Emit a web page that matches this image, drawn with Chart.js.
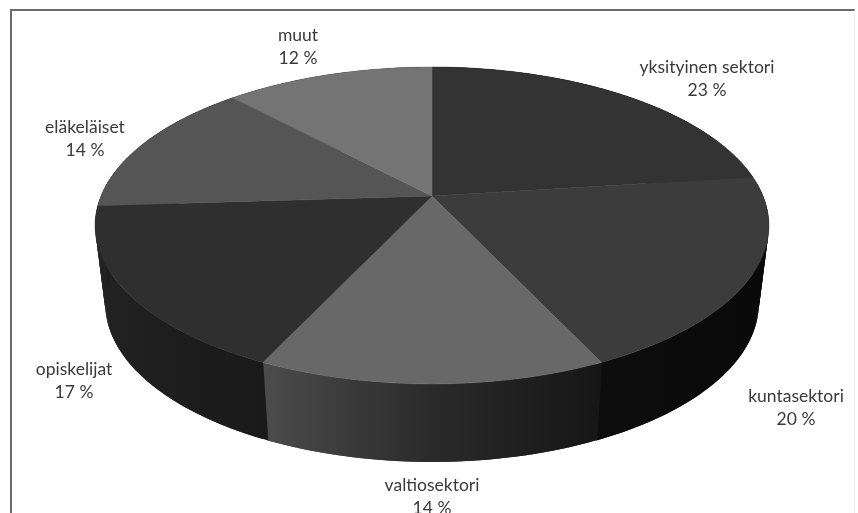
<!DOCTYPE html>
<html>
<head>
<meta charset="utf-8">
<style>
  html, body { margin: 0; background: #fff; overflow: hidden; }
  #wrap { position: relative; width: 858px; height: 513px; overflow: hidden; }
  #frame { position: absolute; left: 10px; top: 9px; width: 842px; height: 520px;
           border-left: 2px solid #6a6a6a; border-top: 2px solid #6a6a6a; border-right: 1px solid #eee; }
  canvas { position: absolute; left: 0; top: 0; filter: blur(0.4px); }
</style>
</head>
<body>
<div id="wrap">
  <div id="frame"></div>
  <canvas id="pie" width="858" height="513"></canvas>
</div>
<script src="https://cdn.jsdelivr.net/npm/chart.js@4"></script>
<script>
const categories = ["yksityinen sektori", "kuntasektori", "valtiosektori", "opiskelijat", "eläkeläiset", "muut"];
const shares = [23, 20, 14, 17, 14, 12];

const topColors = ["#333333", "#3c3c3c", "#686868", "#2f2f2f", "#555555", "#747474"];
// wall shading along each slice: start, middle, end of its arc
const wallShades = [
  ["#080808", "#080808", "#080808"],
  ["#0a0a0a", "#0b0b0b", "#0d0d0d"],
  ["#161616", "#2a2a2a", "#4c4c4c"],
  ["#1a1a1a", "#1d1d1d", "#222222"],
  ["#1e1e1e", "#1e1e1e", "#1e1e1e"],
  ["#282828", "#282828", "#282828"]
];

// label anchors, text centre x and first baseline y
const labelX = [707, 796, 432, 74, 85, 298];
const labelY = [73, 402, 491, 375, 133, 41];

// perspective of the tilted disc: unit circle -> screen
const CX = 432, APEX_Y = 196, SPREAD_X = 331, SPREAD_Y = 116.5, TILT = -0.186;
const DEPTH = 78, BOTTOM_SCALE = 0.97;
const STEP = Math.PI / 180;

function project(a) {
  const u = Math.cos(a), v = Math.sin(a);
  const w = 1 + TILT * v;
  return { x: CX + SPREAD_X * u / w, y: (APEX_Y + SPREAD_Y * v) / w };
}

function lower(p) {
  return { x: CX + (p.x - CX) * BOTTOM_SCALE, y: p.y + DEPTH };
}

function arcPoints(start, end) {
  const n = Math.ceil((end - start) / STEP);
  const pts = [];
  for (let k = 0; k <= n; k++) pts.push(project(start + (end - start) * k / n));
  return pts;
}

const tiltedPie = {
  id: "tiltedPie",
  // Chart.js works out the arcs, we only draw them through the projection
  beforeDatasetDraw(chart) {
    const { ctx } = chart;
    const arcs = chart.getDatasetMeta(0).data;

    // outer wall first, strip by strip so the part round the back can't cancel the front
    arcs.forEach((arc, i) => {
      const first = project(arc.startAngle), last = project(arc.endAngle);
      const grad = ctx.createLinearGradient(first.x, 0, last.x, 0);
      wallShades[i].forEach((c, s) => grad.addColorStop(s / 2, c));
      ctx.fillStyle = grad;
      // tiny overlap at the start hides the seam between two slices
      const pts = arcPoints(arc.startAngle - 0.002, arc.endAngle);
      for (let k = 0; k < pts.length - 1; k++) {
        const a = pts[k], b = pts[Math.min(k + 2, pts.length - 1)];
        const qa = lower(a), qb = lower(b);
        ctx.beginPath();
        ctx.moveTo(a.x, a.y);
        ctx.lineTo(b.x, b.y);
        ctx.lineTo(qb.x, qb.y);
        ctx.lineTo(qa.x, qa.y);
        ctx.closePath();
        ctx.fill();
      }
    });

    // top face
    arcs.forEach((arc, i) => {
      ctx.fillStyle = ctx.strokeStyle = topColors[i];
      ctx.lineWidth = 0.5;
      ctx.beginPath();
      ctx.moveTo(CX, APEX_Y);
      arcPoints(arc.startAngle, arc.endAngle).forEach((p) => ctx.lineTo(p.x, p.y));
      ctx.closePath();
      ctx.fill();
      ctx.stroke();
    });
    return false;
  },
  afterDraw(chart) {
    const { ctx } = chart;
    ctx.font = '17.5px Lato, sans-serif';
    ctx.fillStyle = "#3a3a3a";
    ctx.textAlign = "center";
    categories.forEach((name, i) => {
      ctx.fillText(name, labelX[i], labelY[i]);
      ctx.fillText(shares[i] + " %", labelX[i], labelY[i] + 23);
    });
  }
};

new Chart(document.getElementById("pie"), {
  type: "pie",
  data: {
    labels: categories,
    datasets: [{ data: shares, backgroundColor: topColors, borderWidth: 0 }]
  },
  options: {
    responsive: false,
    animation: false,
    plugins: { legend: { display: false }, tooltip: { enabled: false } }
  },
  plugins: [tiltedPie]
});
</script>
</body>
</html>
